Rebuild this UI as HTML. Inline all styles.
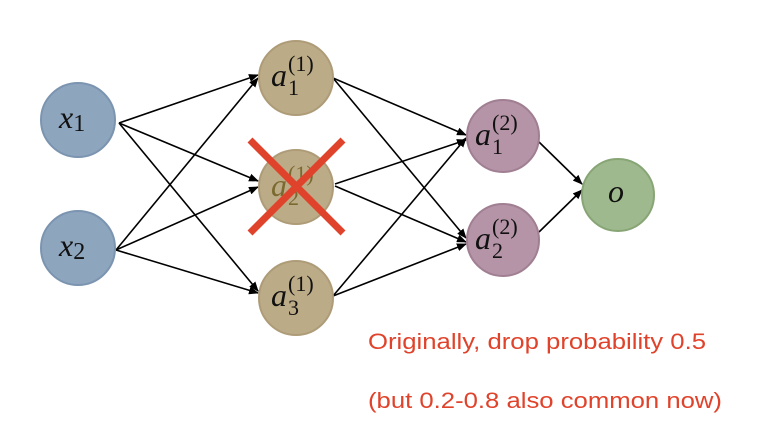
<!DOCTYPE html>
<html><head><style>body{margin:0;background:#fff;}svg{display:block}</style></head><body>
<svg width="776" height="423" xmlns="http://www.w3.org/2000/svg">
<defs><marker id="ar" markerWidth="10" markerHeight="8" refX="9" refY="4" orient="auto" markerUnits="userSpaceOnUse"><path d="M0,0 L10,4 L0,8 Z" fill="#000"/></marker></defs>
<g stroke="#000" stroke-width="1.6" marker-end="url(#ar)">
<line x1="119" y1="123" x2="258" y2="75"/>
<line x1="119" y1="123" x2="258" y2="181"/>
<line x1="119" y1="123" x2="258" y2="291"/>
<line x1="116" y1="250" x2="258" y2="78"/>
<line x1="116" y1="250" x2="258" y2="187"/>
<line x1="116" y1="250" x2="258" y2="293"/>
<line x1="333" y1="78" x2="466" y2="135"/>
<line x1="333" y1="78" x2="466" y2="238"/>
<line x1="335" y1="184" x2="466" y2="140"/>
<line x1="335" y1="186" x2="466" y2="242"/>
<line x1="333" y1="296" x2="466" y2="138"/>
<line x1="333" y1="296" x2="466" y2="244"/>
<line x1="539" y1="142" x2="582" y2="184"/>
<line x1="539" y1="232" x2="582" y2="190"/>
</g>
<g stroke-width="2">
<circle cx="78" cy="120" r="37" fill="#8ea5be" stroke="#7b94b0"/>
<circle cx="78" cy="248" r="37" fill="#8ea5be" stroke="#7b94b0"/>
<circle cx="296" cy="78" r="37" fill="#bcab87" stroke="#ae9c78"/>
<circle cx="296" cy="187" r="37" fill="#bcab87" stroke="#ae9c78"/>
<circle cx="296" cy="298" r="37" fill="#bcab87" stroke="#ae9c78"/>
<circle cx="503" cy="136" r="36" fill="#b494a6" stroke="#a17f93"/>
<circle cx="503" cy="240" r="36" fill="#b494a6" stroke="#a17f93"/>
<circle cx="618" cy="195" r="36" fill="#9eb98d" stroke="#88a576"/>
</g>
<g font-family="'Liberation Serif',serif" font-style="italic" font-size="32" fill="#111">
<text x="59" y="128">x<tspan font-style="normal" font-size="24" dy="3">1</tspan></text>
<text x="59" y="256">x<tspan font-style="normal" font-size="24" dy="3">2</tspan></text>
<text x="271" y="86">a<tspan font-style="normal" font-size="22" dx="1" dy="9">1</tspan><tspan font-style="normal" font-size="22" dx="-11" dy="-24">(1)</tspan></text>
<text x="271" y="196" fill="#7a6a30">a<tspan font-style="normal" font-size="22" dx="1" dy="9">2</tspan><tspan font-style="normal" font-size="22" dx="-11" dy="-24">(1)</tspan></text>
<text x="271" y="306">a<tspan font-style="normal" font-size="22" dx="1" dy="9">3</tspan><tspan font-style="normal" font-size="22" dx="-11" dy="-24">(1)</tspan></text>
<text x="475" y="145">a<tspan font-style="normal" font-size="22" dx="1" dy="9">1</tspan><tspan font-style="normal" font-size="22" dx="-11" dy="-24">(2)</tspan></text>
<text x="475" y="249">a<tspan font-style="normal" font-size="22" dx="1" dy="9">2</tspan><tspan font-style="normal" font-size="22" dx="-11" dy="-24">(2)</tspan></text>
<text x="608" y="202">o</text>
</g>
<g stroke="#e0432b" stroke-width="7">
<line x1="250" y1="140" x2="343" y2="233"/>
<line x1="343" y1="140" x2="250" y2="233"/>
</g>
<g font-family="'Liberation Sans',sans-serif" font-size="22.5" fill="#e0432b">
<text x="368" y="349" textLength="338" lengthAdjust="spacingAndGlyphs">Originally, drop probability 0.5</text>
<text x="368" y="408" textLength="354" lengthAdjust="spacingAndGlyphs">(but 0.2-0.8 also common now)</text>
</g>
</svg>
</body></html>
